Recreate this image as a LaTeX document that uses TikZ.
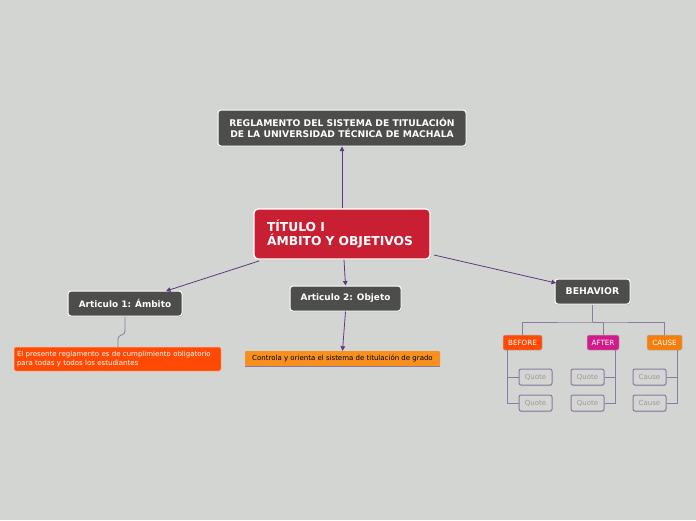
\documentclass[tikz,border=0pt]{standalone}
\usepackage{fontspec}
\setmainfont{DejaVu Sans}
\usetikzlibrary{arrows.meta,positioning,shadows}
\definecolor{canvas}{HTML}{D3D5D2}
\definecolor{slate}{HTML}{4D4D4B}
\definecolor{crimson}{HTML}{C81F32}
\definecolor{flame}{HTML}{FF4A05}
\definecolor{amber}{HTML}{F7901E}
\definecolor{magenta}{HTML}{D01C8B}
\definecolor{tangerine}{HTML}{F57E0D}
\definecolor{plum}{HTML}{5E3B7D}
\definecolor{lilac}{HTML}{8C7BA0}
\definecolor{mist}{HTML}{D5D6D4}
\tikzset{
  topic/.style={draw=white, line width=1pt, rounded corners=3pt, fill=slate, text=white,
                font=\bfseries, align=center, inner sep=0pt,
                drop shadow={shadow xshift=0.6pt, shadow yshift=-1.2pt, opacity=0.35}},
  root/.style={draw=white, line width=1.4pt, rounded corners=4pt, fill=crimson, text=white,
               font=\fontsize{12.3}{14}\selectfont\bfseries, align=left, inner sep=0pt,
               drop shadow={shadow xshift=0.6pt, shadow yshift=-1.2pt, opacity=0.35}},
  note/.style={rounded corners=2pt, font=\fontsize{7}{8.5}\selectfont, inner sep=0pt},
  tag/.style={draw=white!70!black, line width=0.5pt, rounded corners=1.5pt, text=white,
              font=\fontsize{7.2}{8}\selectfont, inner sep=0pt, minimum height=15pt},
  leaf/.style={draw=lilac, line width=1pt, rounded corners=2pt, fill=mist, text=black!40,
               font=\fontsize{7}{8}\selectfont, inner sep=0pt, minimum width=33pt,
               minimum height=16pt, drop shadow={shadow xshift=0.4pt, shadow yshift=-1pt, opacity=0.3}},
  flow/.style={-{Triangle[length=4.5pt, width=4.5pt]}, draw=plum, line width=0.8pt},
  twig/.style={draw=lilac, line width=0.8pt}
}

\begin{document}
\begin{tikzpicture}[x=1pt, y=-1pt]

  \fill[canvas] (0,0) rectangle (696,520);
  \useasboundingbox (0,0) rectangle (696,520);

  %% Central topic and main branches
  \node[root, minimum width=176pt, minimum height=50pt, text width=150pt] (titulo) at (342,234)
        {TÍTULO I\\ÁMBITO Y OBJETIVOS};
  \node[topic, minimum width=248pt, minimum height=36pt, font=\fontsize{9.2}{11.5}\selectfont\bfseries]
        (regl) at (342,128) {REGLAMENTO DEL SISTEMA DE TITULACIÓN\\DE LA UNIVERSIDAD TÉCNICA DE MACHALA};
  \node[topic, minimum width=114pt, minimum height=25pt, font=\fontsize{8.9}{10}\selectfont\bfseries]
        (art1) at (125,303.5) {Articulo 1: Ámbito};
  \node[topic, minimum width=111pt, minimum height=25pt, font=\fontsize{8.9}{10}\selectfont\bfseries]
        (art2) at (345.5,298.5) {Articulo 2: Objeto};
  \node[topic, minimum width=75pt, minimum height=25pt, font=\fontsize{9.3}{10}\selectfont\bfseries]
        (behav) at (592.5,291.5) {BEHAVIOR};

  %% Subtopics
  \node[note, fill=flame, text=white, minimum width=207pt, minimum height=24pt,
        text width=201pt, align=left, draw=white!60!flame, line width=0.5pt] (deber) at (117.5,359)
        {El presente reglamento es de cumplimiento obligatorio\\para todas y todos los estudiantes};
  \node[note, fill=amber, text=black, minimum width=195pt, minimum height=15pt,
        rounded corners=1pt] (ctrl) at (342.5,358.5)
        {Controla y orienta el sistema de titulación de grado};
  \draw[draw=lilac, line width=0.8pt] (ctrl.south west) -- (ctrl.south east);

  %% Behavior children
  \node[tag, fill=flame, minimum width=39pt] (before) at (522.5,342.5) {BEFORE};
  \node[tag, fill=magenta, minimum width=32pt] (after) at (603,342.5) {AFTER};
  \node[tag, fill=tangerine, minimum width=35pt] (cause) at (664.5,342.5) {CAUSE};

  \node[leaf] (q1) at (535.5,377) {Quote};
  \node[leaf] (q2) at (535.5,403) {Quote};
  \node[leaf] (q3) at (587.5,377) {Quote};
  \node[leaf] (q4) at (587.5,403) {Quote};
  \node[leaf] (c1) at (649.5,377) {Cause};
  \node[leaf] (c2) at (649.5,403) {Cause};

  %% Flows
  \coordinate (tl) at (259,261);
  \coordinate (tr) at (434,255);
  \coordinate (a1in) at (166,291);
  \coordinate (bhin) at (556,283);
  \draw[flow] (titulo.north) -- (regl.south);
  \draw[flow] (tl) -- (a1in);
  \draw[flow] (titulo.south -| 344,0) -- (art2.north);
  \draw[flow] (tr) -- (bhin);
  \draw[flow] (art2.south) -- (ctrl.north);
  \draw[twig, rounded corners=3pt] (art1.south) -- (125,334) -- (118,336) -- (deber.north -| 118,0);

  %% Behavior tree
  \coordinate (hub) at (592.5,322);
  \draw[twig] (behav.south) -- (hub);
  \draw[twig] (before.north) |- (hub) -| (cause.north);
  \draw[twig] (hub) -| (after.north);
  \draw[twig] (before.south west) ++(5,0) coordinate (bl) -- (bl |- q2.west) -- (q2.west);
  \draw[twig] (bl |- q1.west) -- (q1.west);
  \draw[twig] (after.south east) ++(-4,0) coordinate (ar) -- (ar |- q4.east) -- (q4.east);
  \draw[twig] (ar |- q3.east) -- (q3.east);
  \draw[twig] (cause.south east) ++(-5,0) coordinate (cr) -- (cr |- c2.east) -- (c2.east);
  \draw[twig] (cr |- c1.east) -- (c1.east);

\end{tikzpicture}
\end{document}
